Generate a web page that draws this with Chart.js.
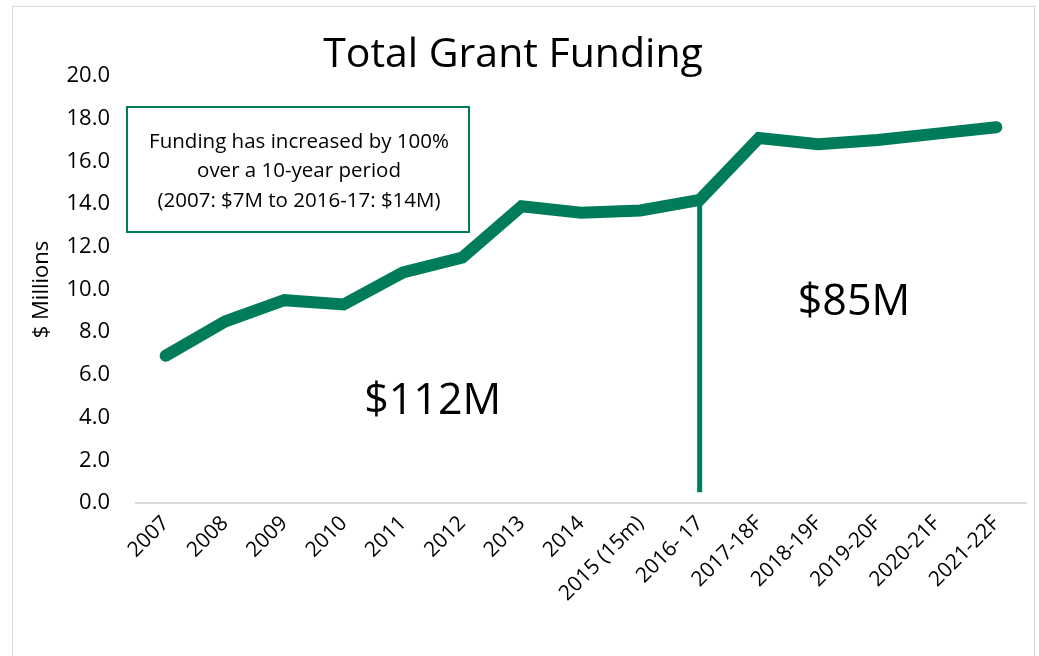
<!DOCTYPE html>
<html>
<head>
<meta charset="utf-8">
<script src="https://cdn.jsdelivr.net/npm/chart.js@4.4.1/dist/chart.umd.min.js"></script>
<style>
  html, body { margin: 0; padding: 0; background: #fff; }
  #wrap { position: absolute; left: 0; top: 0; width: 1039px; height: 656px; }
  #frame { position: absolute; left: 12px; top: 6px; width: 1021px; height: 660px; border: 1px solid #d9d9d9; }
</style>
</head>
<body>
<div id="frame"></div>
<div id="wrap"><canvas id="chart" width="1039" height="656"></canvas></div>
<script>
const years = ['2007', '2008', '2009', '2010', '2011', '2012', '2013', '2014', '2015 (15m)',
    '2016- 17', '2017-18F', '2018-19F', '2019-20F', '2020-21F', '2021-22F'];
const funding = [6.9, 8.5, 9.5, 9.3, 10.8, 11.5, 13.9, 13.6, 13.7, 14.2, 17.1, 16.8, 17.0, 17.3, 17.6];
const noteLines = ['Funding has increased by 100%', 'over a 10-year period', '(2007: $7M to 2016-17: $14M)'];
const totals = ['$112M', '$85M'];

const green = '#007c5a';
const fontFam = '"Open Sans", Lato, sans-serif';

// divider line, totals and note box drawn on top of the chart
const extras = {
    id: 'extras',
    afterDatasetsDraw(chart) {
        const ctx = chart.ctx;
        const x = chart.scales.x, y = chart.scales.y;
        ctx.save();

        // vertical split at 2016-17
        let px = x.getPixelForValue(9);
        ctx.strokeStyle = green;
        ctx.lineWidth = 5;
        ctx.beginPath();
        ctx.moveTo(px, y.getPixelForValue(funding[9]));
        ctx.lineTo(px, y.getPixelForValue(0.5));
        ctx.stroke();

        ctx.fillStyle = '#000';
        ctx.font = '43px ' + fontFam;
        ctx.textAlign = 'center';
        ctx.textBaseline = 'middle';
        ctx.fillText(totals[0], x.getPixelForValue(4.5), y.getPixelForValue(4.75));
        ctx.fillText(totals[1], x.getPixelForValue(11.6), y.getPixelForValue(9.4));

        // note box
        ctx.fillStyle = '#fff';
        ctx.fillRect(127, 107, 342, 125);
        ctx.strokeStyle = green;
        ctx.lineWidth = 2;
        ctx.strokeRect(127, 107, 342, 125);
        ctx.fillStyle = '#000';
        ctx.font = '20.5px ' + fontFam;
        noteLines.forEach((t, i) => ctx.fillText(t, 299, 142 + i * 29.5));
        ctx.restore();
    }
};

new Chart(document.getElementById('chart'), {
    type: 'line',
    data: {
        labels: years,
        datasets: [{
            data: funding,
            borderColor: green,
            borderWidth: 12,
            borderCapStyle: 'round',
            borderJoinStyle: 'miter',
            pointRadius: 0,
            tension: 0
        }]
    },
    options: {
        responsive: false,
        animation: false,
        layout: { padding: { top: 0, right: 13, left: 0, bottom: 0 } },
        plugins: {
            legend: { display: false },
            tooltip: { enabled: false },
            title: {
                display: true,
                text: 'Total Grant Funding',
                color: '#000',
                font: { family: fontFam, size: 41, weight: 'normal', lineHeight: 1.0 },
                padding: { top: 35, bottom: 0 }
            }
        },
        scales: {
            x: {
                offset: true,
                grid: { display: false, drawTicks: false, offset: true },
                border: { color: '#d9d9d9', width: 2 },
                ticks: {
                    color: '#000',
                    font: { family: fontFam, size: 21 },
                    maxRotation: 45, minRotation: 45,
                    padding: 8
                },
                afterFit(s) { s.height = 153; }
            },
            y: {
                min: 0, max: 20,
                grid: { display: false, drawTicks: false },
                border: { display: false },
                ticks: {
                    stepSize: 2,
                    color: '#000',
                    font: { family: fontFam, size: 22 },
                    padding: 26,
                    callback: v => v.toFixed(1)
                },
                title: {
                    display: true,
                    text: '$ Millions',
                    color: '#000',
                    font: { family: fontFam, size: 22 },
                    padding: { top: 29, bottom: 0 }
                },
                afterFit(s) { s.width = 136; }
            }
        }
    },
    plugins: [extras]
});
</script>
</body>
</html>
